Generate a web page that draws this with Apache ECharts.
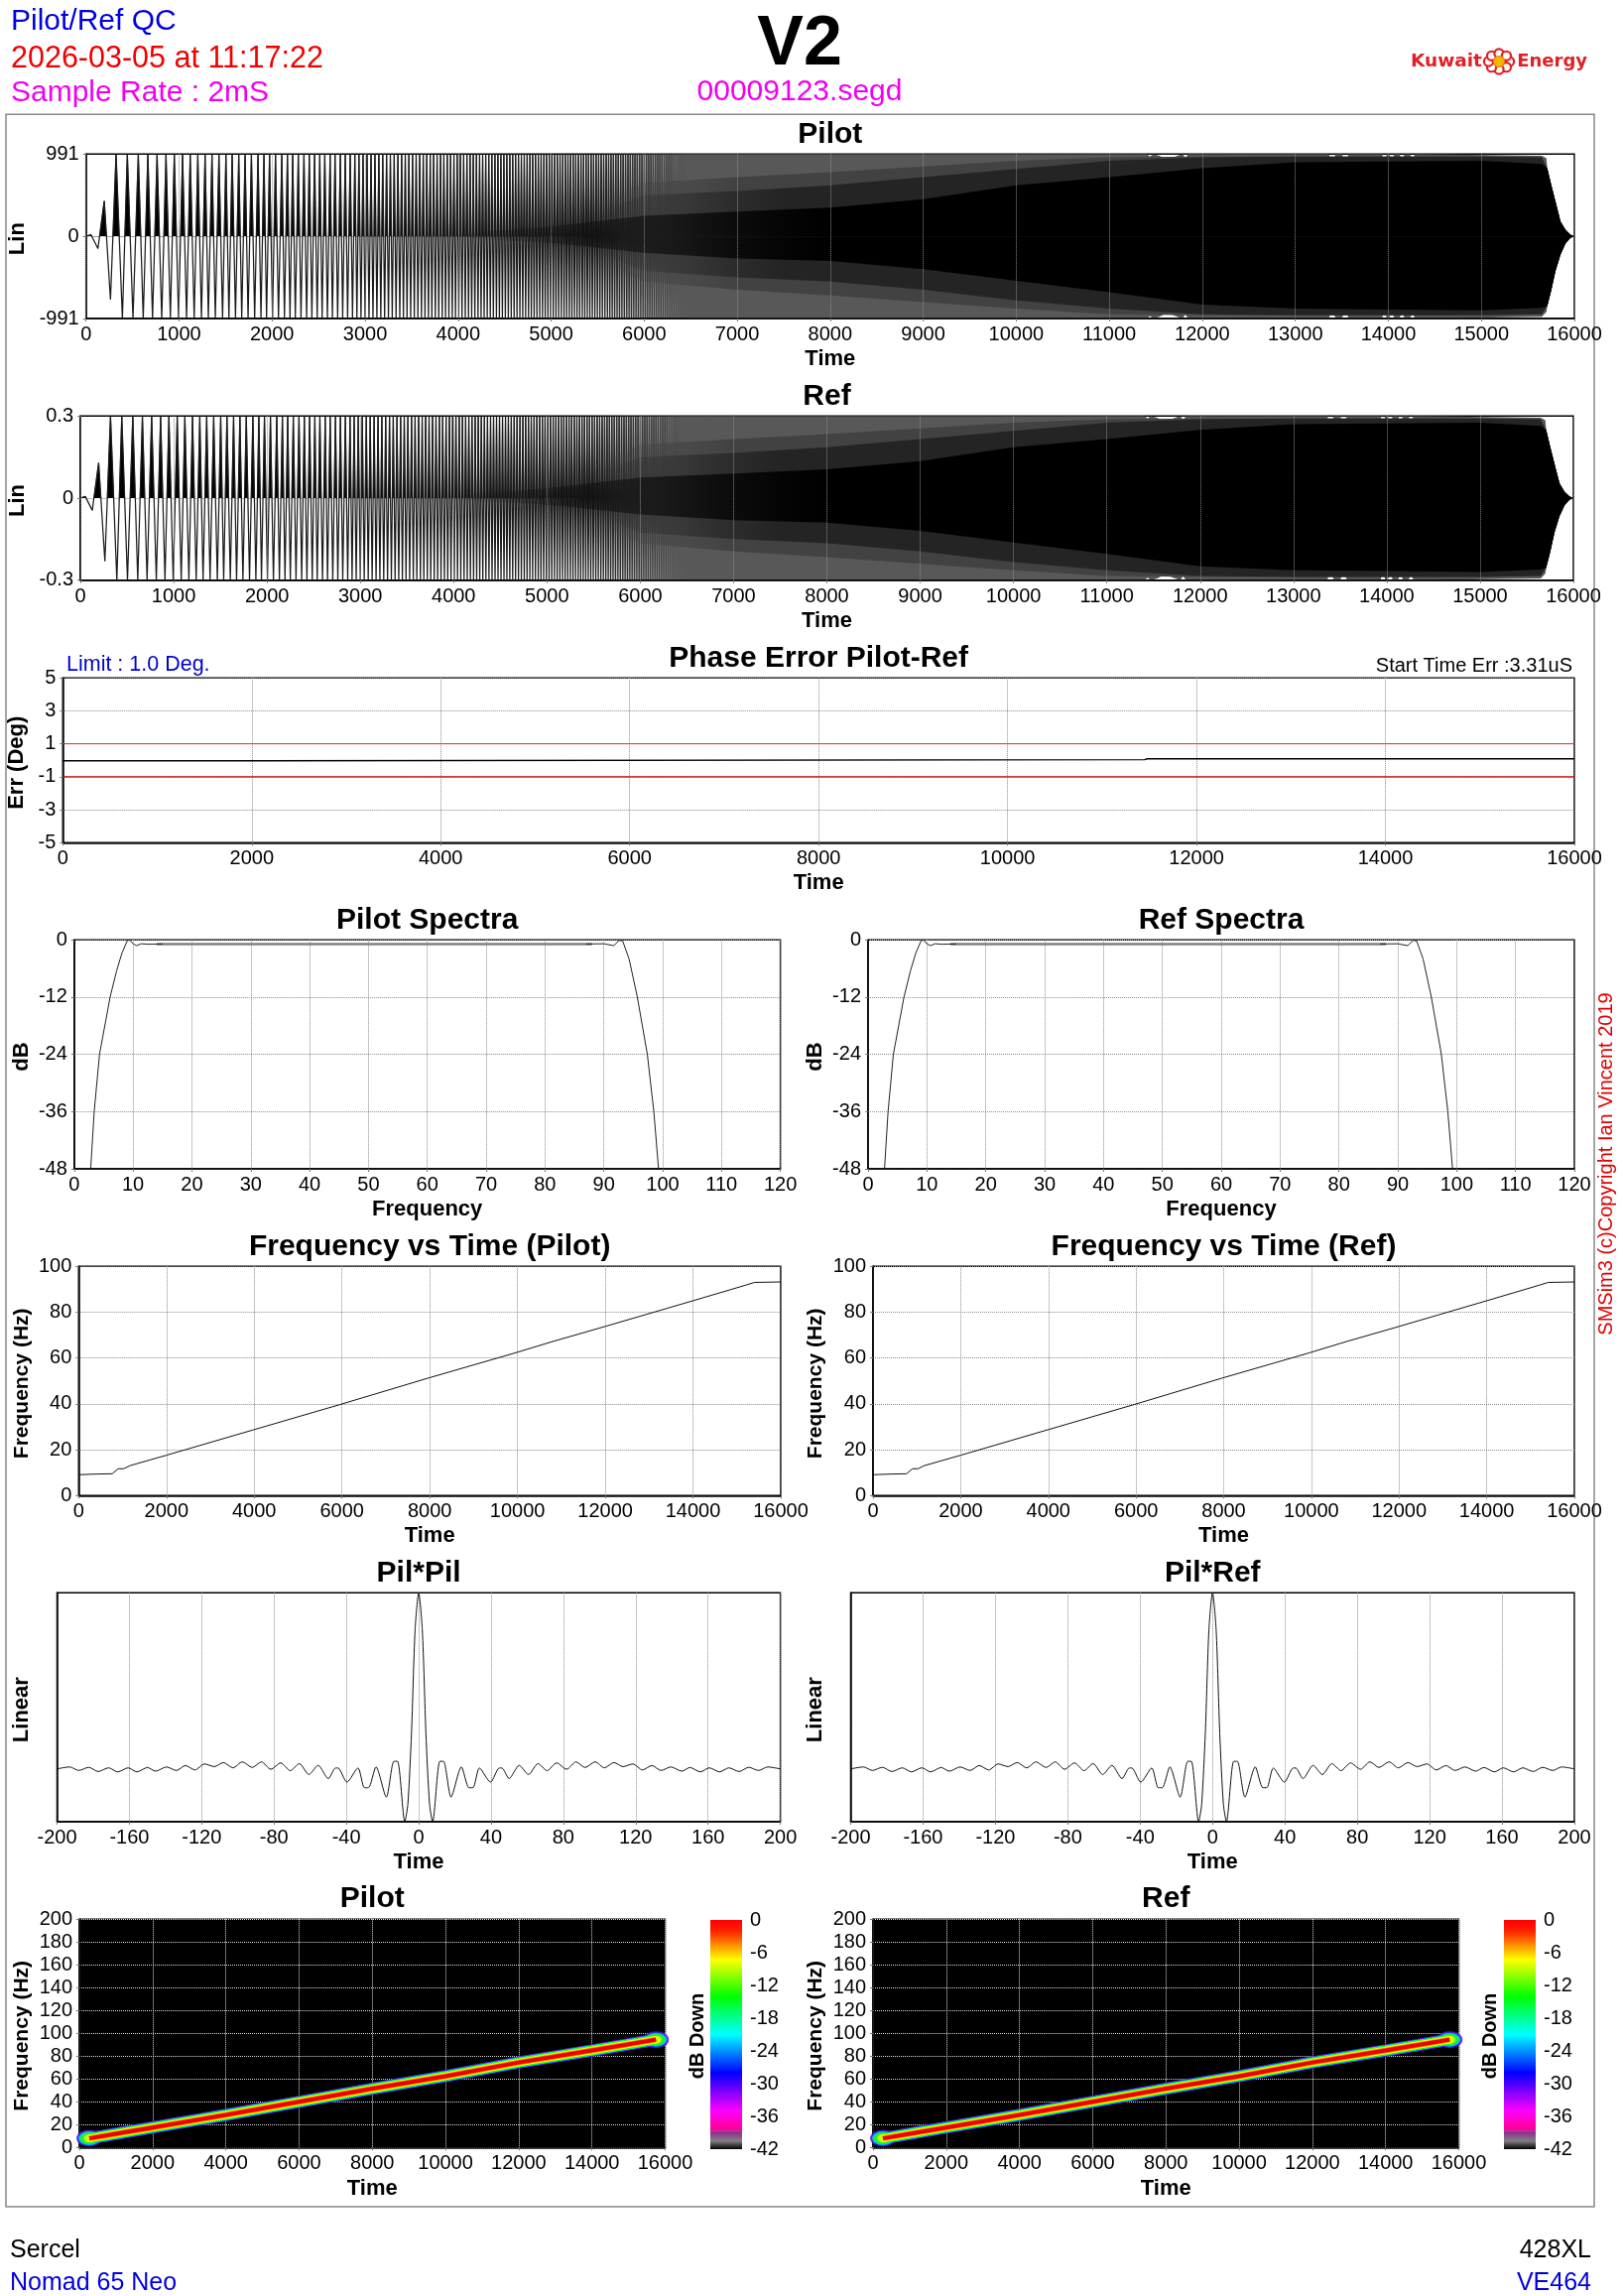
<!DOCTYPE html>
<html>
<head>
<meta charset="utf-8">
<title>Pilot/Ref QC</title>
<script src="https://cdn.jsdelivr.net/npm/echarts@6/dist/echarts.min.js"></script>
<style>
html,body{margin:0;padding:0;background:#fff;}
#main{width:1636px;height:2314px;}
</style>
</head>
<body>
<div id="main"></div>
<script>
//sweep extrema (ms), read from the stripes up to about 7000ms, peak and trough in turn
var sweepExtremaT = [53,128,196,263,323,391,444,505,562,615,665,715,764,814,860,907,949,995,1038,1081,1120,1163,1202,1241,1280,1315,1354,1390,1429,1468,1504,1536,1571,1607,1642,1674,1710,1742,1778,1813,1849,1881,1913,1941,1973,2005,2037,2069,2105,2133,2165,2193,2222,2250,2282,2311,2343,2372,2400,2428,2457,2485,2513,2538,2567,2595,2624,2649,2677,2705,2734,2759,2787,2812,2840,2865,2890,
2912,2934,2956,2978,3000,3021,3042,3064,3085,3106,3127,3148,3169,3190,3210,3231,3251,3272,3292,3313,3333,3353,3373,3393,3412,3432,3451,3471,3490,3510,3529,3549,3568,3587,3606,3625,3644,3663,3681,3700,3718,3737,3755,3774,3792,3811,3829,3847,3865,3883,3901,3919,3937,3955,3972,3990,4007,4025,4042,4060,4077,4095,4112,4129,4146,4163,4180,4197,4214,4231,4247,4264,4280,4297,4313,4330,4346,4363,4379,4396,4412,4428,4444,4460,4476,4492,4508,4524,4540,4556,4571,4587,4602,4618,4633,4649,4664,4680,4695,4711,4726,4742,4757,4772,4787,4802,4817,4832,4847,4862,4877,4892,4907,4922,4936,4951,4965,4980,4994,5009,5023,5038,5052,5067,5081,5096,5110,5125,5139,5153,5167,5181,5195,5209,5223,5237,5251,5265,5279,5293,5307,5321,5335,5349,5362,5376,5389,5403,5416,5430,5443,5457,5470,5484,5497,5511,5524,5538,5551,5565,5578,5592,5605,5618,5631,5644,5657,5670,5683,5696,5709,5722,5735,5748,5761,5774,5787,5800,5813,5826,5838,5851,5863,5876,5888,5901,5913,5926,5938,5951,5963,5976,5988,6001,
6013,6025,6037,6049,6061,6073,6085,6097,6109,6121,6133,6145,6157,6169,6181,6192,6204,6216,6228,6240,6251,6263,6275,6286,6298,6309,6321,6332,6344,6355,6367,6378,6390,6401,6413,6424,6435,6447,6458,6470,6481,6492,6503,6515,6526,6537,6548,6560,6571,6582,6593,6604,6615,6627,6638,6649,6660,6671,6682,6693,6704,6715,6726,6737,6748,6759,6770,6781,6792,6803,6814,6825,6836,6846,6857,6868,6879,6890,6901,6912,6922,6933,6944,6955,6965,6976,6987,6998];
//first extrema are tapered, all the later ones reach full scale
var sweepTaperAmp = [0.02,-0.15,0.43,-0.77];

//past 7000ms the cycles are not resolved in the picture, so only the shading is kept:
//outer edge, two grey bands and black core as fractions of full scale
var edgeT =   [5500,11400,11439,11470,11540,11620,11733,11790,11816,11850,13360,13398,13435,13500,13537,13575,13935,13953,13985,14010,14036,14065,14120,14147,14175,14230,14258,14290,15650,15700,15708,15751,15797,15851,15904,15957,16000];
var edgeTop = [1,1,0.97,1,0.98,0.93,0.98,1,0.95,1,1,0.9,1,1,0.9,1,1,0.88,1,1,0.9,1,1,0.92,1,1,0.94,1,0.98,0.95,0.83,0.625,0.42,0.18,0.08,0.02,0];
var edgeBot = [1,1,0.97,1,0.98,0.93,0.98,1,0.95,1,1,0.9,1,1,0.9,1,1,0.88,1,1,0.9,1,1,0.92,1,1,0.94,1,0.98,0.92,0.85,0.66,0.42,0.22,0.09,0.02,0];
var greyT =   [5500,6000,7000,8000,9000,10000,11000,12000,13000,14000,15000,15650,15708,15751,15797,15851,15904,15957,16000];
var greyTop = [0.4,0.65,0.72,0.78,0.85,0.92,0.96,0.97,0.97,0.97,0.97,0.96,0.83,0.625,0.42,0.18,0.08,0.02,0];
var greyBot = [0.3,0.55,0.65,0.72,0.8,0.88,0.95,0.96,0.96,0.96,0.96,0.95,0.85,0.66,0.42,0.22,0.09,0.02,0];
var darkTop = [0.3,0.5,0.55,0.62,0.72,0.82,0.92,0.96,0.97,0.97,0.97,0.96,0.83,0.625,0.42,0.18,0.08,0.02,0];
var darkBot = [0.2,0.42,0.5,0.55,0.65,0.78,0.88,0.95,0.96,0.96,0.96,0.95,0.85,0.66,0.42,0.22,0.09,0.02,0];
var coreT =   [4000,5000,6000,7000,8000,9000,10000,11000,12000,13000,14000,15000,15650,15708,15751,15797,15851,15904,15957,16000];
var coreTop = [0.03,0.12,0.25,0.3,0.35,0.45,0.62,0.72,0.83,0.9,0.91,0.92,0.88,0.83,0.625,0.42,0.18,0.08,0.02,0];
var coreBot = [0.02,0.08,0.2,0.27,0.3,0.4,0.54,0.68,0.83,0.88,0.89,0.9,0.87,0.85,0.66,0.42,0.22,0.09,0.02,0];

var pilotScale = 991;
var refScale = 0.3;

//phase error and limits
var phaseT = [0,2100,2120,11450,11480,16000];
var phaseErr = [-0.03,-0.03,0.04,0.04,0.09,0.09];
var limitT = [0,16000];
var limitHigh = [1,1];
var limitLow = [-1,-1];

//amplitude spectrum, edges and the flat top with its small ripple
var spectraLowF = [2.8,3.4,4.3,6.1,7.2,8.1,9,9.4,10,10.6,11.4,12.5,15];
var spectraLowDb = [-48,-36,-24,-12,-6.5,-2.8,-0.2,0,-0.8,-1.2,-0.8,-0.9,-0.85];
var spectraFlatF = [14,88];
var spectraFlatDb = [-0.85,-0.85];
var spectraHighF = [87,90,91.7,92.6,93.2,94.3,95.7,97.4,98.5,99.3];
var spectraHighDb = [-0.85,-0.8,-1.2,-0.1,-0.2,-4,-12,-24,-36,-48];

//instantaneous frequency
var sweepT = [0,427,764,900,1026,1176,2000,3985,5955,7955,9940,10800,12000,14000,15200,15400,16000];
var sweepF = [9.1,9.4,9.5,11.7,11.7,13.1,17.6,28.7,39.7,51.2,62.2,67.2,73.8,85,91.8,93,93.2];

//correlation, positive lags, mirrored for the negative side
var corrLag = [0,2,4,6,7.7,11.7,13.7,17.9,23.6,27.8,30,33.6,39.7,44.6,46,50,55.6,60.7,66,71,76.3,81.8,87,92,97.6,102.7,108,113,118.5,123.7,129,134,139.5,145.5,150,155.8,160.7,166.4,171.5,177.2,182.5,188,193,200];
var corrVal = [1,0.79,0.2,-0.2,-0.3,0.043,0.043,-0.16,0.011,-0.107,-0.107,0.005,-0.075,0.005,0.005,-0.055,0.02,-0.032,0.03,-0.01,0.034,-0.002,0.04,0.008,0.04,0.006,0.036,0.013,0.028,-0.006,0.019,-0.009,0.011,-0.013,0.008,-0.017,0.006,-0.017,0.006,-0.015,0.009,-0.009,0.011,0];

//time-frequency ridge and colour scale
var ridgeT = [270,1000,2000,4000,6000,8000,10000,12000,14000,15750];
var ridgeF = [8,12,17.5,28.5,40,51.5,62.5,74.5,85,94.5];
var ridgeEnds = [[270,8],[15750,94.5]];
var colorbarDb = [0,-2,-7.3,-14,-21,-28,-35,-38.5,-38.6,-39,-40.5,-42];
var colorbarColors = ['#ff0000','#ff2000','#ffff00','#00ff00','#00ffff','#0000ff','#ff00ff','#ff0090','#a040a0','#903090','#808080','#000000'];
var ridgeColors = ['#a000e0','#0030ff','#00e0ff','#20ff00','#ffff00','#ff8000','#ee0000'];

var font = '"Liberation Sans",Arial,sans-serif';
var gridColor = '#8c8c8c';

function zip(xs,ys)
{
	var r = [];
	for(var i=0;i<xs.length;i++)
	{
		r.push([xs[i],ys[i]]);
	}
	return r;
}
//no thousands separator on the axes
function plainNumber(v)
{
	return String(v);
}

var option = {animation:false,backgroundColor:'#fff',title:[],grid:[],xAxis:[],yAxis:[],series:[],graphic:[]};

//one grid with its axes and title, returns the index shared by grid and axes
function addPlot(p)
{
	var idx = option.grid.length;
	option.grid.push({left:p.l,top:p.t,width:p.r-p.l,height:p.b-p.t,show:true,borderColor:'#000',borderWidth:1.5,
		backgroundColor:p.bg||'#fff',containLabel:false,outerBoundsMode:'none',z:0});
	option.xAxis.push({gridIndex:idx,type:'value',min:p.xMin,max:p.xMax,interval:p.xStep,z:p.lineOnTop?6:undefined,
		name:p.xName,nameLocation:'middle',nameGap:p.xGap,
		nameTextStyle:{fontFamily:font,fontWeight:'bold',fontSize:22,color:'#000'},
		axisLine:{onZero:false,lineStyle:{color:'#000',width:1.5}},
		axisTick:{length:3,lineStyle:{color:'#777'}},
		axisLabel:{fontFamily:font,fontSize:20,color:'#000',margin:6.5,showMinLabel:true,showMaxLabel:true,hideOverlap:false,formatter:plainNumber},
		splitLine:{show:true,lineStyle:{type:[1,1],color:p.gridColor||gridColor,width:1}}});
	var y = {gridIndex:idx,type:'value',min:p.yMin,max:p.yMax,
		name:p.yName,nameLocation:'middle',nameGap:p.l-p.yNameX-13,nameRotate:90,
		nameTextStyle:{fontFamily:font,fontWeight:'bold',fontSize:p.yNameSize||22,color:'#000',padding:[0,5,0,0]},
		axisLine:{onZero:false,lineStyle:{color:'#000',width:1.5}},
		axisTick:{show:p.yTicks!==false,length:3,lineStyle:{color:'#777'}},
		axisLabel:{show:p.yLabels!==false,fontFamily:font,fontSize:20,color:'#000',margin:7,padding:[3,0,0,0],showMinLabel:true,showMaxLabel:true,hideOverlap:false,formatter:plainNumber},
		splitLine:{show:p.ySplit!==false,lineStyle:{type:[1,1],color:p.gridColor||gridColor,width:1}}};
	if(p.yStep)
	{
		y.interval = p.yStep;
	}
	if(p.yCustom)
	{
		y.axisLabel.customValues = p.yCustom;
		y.axisTick.customValues = p.yCustom;
	}
	option.yAxis.push(y);
	option.title.push({text:p.title,left:(p.l+p.r)/2,top:p.titleY-14,textAlign:'center',padding:0,
		textStyle:{fontFamily:font,fontWeight:'bold',fontSize:30,color:'#000'}});
	return idx;
}

function addLine(idx,data,color,width,extra)
{
	var s = {type:'line',xAxisIndex:idx,yAxisIndex:idx,data:data,showSymbol:false,symbol:'none',silent:true,
		lineStyle:{color:color,width:width},clip:true,z:2};
	for(var k in extra)
	{
		s[k] = extra[k];
	}
	option.series.push(s);
}

function scaled(ts,fr,scale)
{
	var r = [];
	for(var i=0;i<ts.length;i++)
	{
		r.push([ts[i],fr[i]*scale]);
	}
	return r;
}

//fill that fades in over the resolved stripes, from the first time of the band up to fullT
function fadeIn(rgb,ts,fullT)
{
	var first = ts[0];
	var off = (fullT-first)/(ts[ts.length-1]-first);
	return new echarts.graphic.LinearGradient(0,0,1,0,[
		{offset:0,color:'rgba('+rgb+',0)'},{offset:off,color:'rgba('+rgb+',1)'},{offset:1,color:'rgba('+rgb+',1)'}]);
}

//a polyline is painted over every area of the same z, so each band needs its own z above the wiggle
function addBand(idx,ts,top,bot,scale,rgb,fullT,z)
{
	var fill = fadeIn(rgb,ts,fullT);
	addLine(idx,scaled(ts,top,scale),'transparent',0,{areaStyle:{color:fill,opacity:1},z:z});
	addLine(idx,scaled(ts,bot,-scale),'transparent',0,{areaStyle:{color:fill,opacity:1},z:z});
}

function addWaveform(p,scale)
{
	p.xMin = 0;p.xMax = 16000;p.xStep = 1000;
	p.yMin = -scale;p.yMax = scale;p.yCustom = [-scale,0,scale];
	p.ySplit = false;p.lineOnTop = true;p.yName = 'Lin';p.yNameX = 20;p.xName = 'Time';
	var idx = addPlot(p);
	//wiggle, drawn from the read extrema
	var wiggle = [[0,0]];
	for(var i=0;i<sweepExtremaT.length;i++)
	{
		var a = i<sweepTaperAmp.length?sweepTaperAmp[i]:(i%2==0?1:-1);
		wiggle.push([sweepExtremaT[i],a*scale]);
	}
	//variable area: same trace on a hidden grid over the upper half only, so the lobes clip at zero
	var half = option.grid.length;
	option.grid.push({left:p.l,top:p.t,width:p.r-p.l,height:(p.b-p.t)/2,show:false,outerBoundsMode:'none'});
	option.xAxis.push({gridIndex:half,type:'value',min:0,max:16000,show:false});
	option.yAxis.push({gridIndex:half,type:'value',min:0,max:scale,show:false});
	addLine(half,wiggle,'#000',0.6,{areaStyle:{color:'#000',opacity:1}});
	addLine(idx,wiggle,'#1c1c1c',1.25);
	//unresolved part
	addBand(idx,edgeT,edgeTop,edgeBot,scale,'88,88,88',6500,3);
	addBand(idx,greyT,greyTop,greyBot,scale,'66,66,66',7000,4);
	addBand(idx,greyT,darkTop,darkBot,scale,'36,36,36',7500,4.5);
	addBand(idx,coreT,coreTop,coreBot,scale,'0,0,0',8000,5);
}

function addSpectra(p)
{
	p.xMin = 0;p.xMax = 120;p.xStep = 10;p.yMin = -48;p.yMax = 0;p.yStep = 12;
	p.yName = 'dB';p.xName = 'Frequency';p.xGap = 30;p.titleY = 927;p.t = 947.3;p.b = 1178;
	var idx = addPlot(p);
	addLine(idx,zip(spectraFlatF,spectraFlatDb),'#808080',2.5);
	addLine(idx,zip(spectraLowF,spectraLowDb),'#222',1);
	addLine(idx,zip(spectraHighF,spectraHighDb),'#222',1);
}

function addSweep(p)
{
	p.xMin = 0;p.xMax = 16000;p.xStep = 2000;p.yMin = 0;p.yMax = 100;p.yStep = 20;
	p.yName = 'Frequency (Hz)';p.yNameSize = 21;p.xName = 'Time';p.xGap = 30;p.titleY = 1256;p.t = 1276.3;p.b = 1507.3;
	var idx = addPlot(p);
	addLine(idx,zip(sweepT,sweepF),'#111',1);
}

function addCorr(p)
{
	p.xMin = -200;p.xMax = 200;p.xStep = 40;p.yMin = -0.3;p.yMax = 1;
	p.ySplit = false;p.yLabels = false;p.yTicks = false;
	p.yName = 'Linear';p.xName = 'Time';p.xGap = 30;p.titleY = 1585;p.t = 1605.3;p.b = 1836;
	var idx = addPlot(p);
	var data = [];
	for(var i=corrLag.length-1;i>0;i--)
	{
		data.push([-corrLag[i],corrVal[i]]);
	}
	for(var j=0;j<corrLag.length;j++)
	{
		data.push([corrLag[j],corrVal[j]]);
	}
	addLine(idx,data,'#111',1,{smooth:0.25});
}

function addGram(p,barL)
{
	p.xMin = 0;p.xMax = 16000;p.xStep = 2000;p.yMin = 0;p.yMax = 200;p.yStep = 20;
	p.yName = 'Frequency (Hz)';p.yNameSize = 21;p.xName = 'Time';p.xGap = 31;p.titleY = 1913;p.t = 1934.3;p.b = 2164.3;
	p.bg = '#000';p.gridColor = '#dddddd';
	var idx = addPlot(p);
	var ridge = zip(ridgeT,ridgeF);
	var widths = [12.5,11.5,10.5,9.5,7.5,5.5,4];
	var ends = [[26,17],[24,15.5],[22,14],[19,12],[11,8]];
	for(var i=0;i<ridgeColors.length;i++)
	{
		var layerZ = 3+i;
		if(i<ends.length)
		{
			option.series.push({type:'scatter',xAxisIndex:idx,yAxisIndex:idx,data:ridgeEnds,symbol:'circle',symbolSize:ends[i],
				itemStyle:{color:ridgeColors[i]},silent:true,clip:true,z:layerZ});
		}
		addLine(idx,ridge,ridgeColors[i],widths[i],{z:layerZ});
	}
	//colour scale: its own small grid, so the labels come from a real axis
	var bar = option.grid.length;
	option.grid.push({left:barL,top:1935,width:32,height:231,show:false,outerBoundsMode:'none'});
	option.xAxis.push({gridIndex:bar,type:'category',data:['dB'],show:false,boundaryGap:true});
	option.yAxis.push({gridIndex:bar,type:'value',min:-42,max:0,interval:6,position:'right',
		axisLine:{show:false,onZero:false},axisTick:{show:false},splitLine:{show:false},
		axisLabel:{fontFamily:font,fontSize:20,color:'#000',margin:8,padding:[3,0,0,0],showMinLabel:true,showMaxLabel:true,hideOverlap:false,formatter:plainNumber}});
	var stops = [];
	for(var k=0;k<colorbarDb.length;k++)
	{
		stops.push({offset:-colorbarDb[k]/42,color:colorbarColors[k]});
	}
	option.series.push({type:'bar',xAxisIndex:bar,yAxisIndex:bar,data:[-42],barWidth:'100%',silent:true,
		itemStyle:{color:new echarts.graphic.LinearGradient(0,0,0,1,stops)}});
}

addWaveform({l:86.7,r:1587,t:155.3,b:321,title:'Pilot',titleY:135,xGap:29.5},pilotScale);
addWaveform({l:81,r:1586,t:419.3,b:584.7,title:'Ref',titleY:398.5,xGap:30},refScale);

var phaseIdx = addPlot({l:63.3,r:1587,t:683.2,b:849.3,title:'Phase Error Pilot-Ref',titleY:663,
	xMin:0,xMax:16000,xStep:2000,yMin:-5,yMax:5,yCustom:[-5,-3,-1,1,3,5],yName:'Err (Deg)',yNameX:20,xName:'Time',xGap:30});
addLine(phaseIdx,zip(limitT,limitHigh),'#e03030',1);
addLine(phaseIdx,zip(limitT,limitLow),'#c00000',1.2);
addLine(phaseIdx,zip(phaseT,phaseErr),'#000',1.4);

addSpectra({l:74.8,r:786.6,title:'Pilot Spectra',yNameX:20});
addSpectra({l:875,r:1587,title:'Ref Spectra',yNameX:820});
addSweep({l:79.3,r:787,title:'Frequency vs Time (Pilot)',yNameX:20});
addSweep({l:880,r:1587,title:'Frequency vs Time (Ref)',yNameX:820});
addCorr({l:57.5,r:786.6,title:'Pil*Pil',yNameX:20});
addCorr({l:857.5,r:1587,title:'Pil*Ref',yNameX:820});
addGram({l:80,r:670.5,title:'Pilot',yNameX:20},716);
addGram({l:880,r:1470.5,title:'Ref',yNameX:820},1516);

//page furniture
function label(text,x,y,size,color,align,weight,rot)
{
	return {type:'text',x:x,y:y,rotation:rot||0,z:10,style:{text:text,fill:color,align:align||'left',verticalAlign:'middle',
		font:(weight||'normal')+' '+size+'px '+font}};
}
option.graphic.push({type:'rect',shape:{x:6,y:115.3,width:1601,height:2108.7},style:{fill:'none',stroke:'#888',lineWidth:1.5},z:-1,silent:true});
option.graphic.push(label('Pilot/Ref QC',11,22,30,'#0000e0'));
option.graphic.push(label('2026-03-05 at 11:17:22',11,60,30.5,'#f00000'));
option.graphic.push(label('Sample Rate : 2mS',11,94,30,'#f000f0'));
option.graphic.push(label('V2',806,46,70,'#000','center','bold'));
option.graphic.push(label('00009123.segd',806,93,30,'#f000f0','center'));
option.graphic.push(label('Limit : 1.0 Deg.',67,670,21.5,'#0000d0'));
option.graphic.push(label('Start Time Err :3.31uS',1585,671.5,20,'#000','right'));
option.graphic.push(label('SMSim3 (c)Copyright Ian Vincent 2019',1619,1173,20,'#e00000','center','normal',Math.PI/2));
option.graphic.push(label('Sercel',10,2268,25,'#000'));
option.graphic.push(label('Nomad 65 Neo',10,2301,25,'#0000e0'));
option.graphic.push(label('428XL',1604,2268,25,'#000','right'));
option.graphic.push(label('VE464',1604,2301,25,'#0000e0','right'));
option.graphic.push(label('dB Down',703.5,2052,20,'#000','center','bold',Math.PI/2));
option.graphic.push(label('dB Down',1502,2052,20,'#000','center','bold',Math.PI/2));

//logo
var logoRed = '#e01f26';
option.graphic.push({type:'text',x:1422,y:62,z:10,style:{text:'Kuwait',fill:logoRed,align:'left',verticalAlign:'middle',font:'bold 18.5px "DejaVu Sans"'}});
option.graphic.push({type:'text',x:1600,y:62,z:10,style:{text:'Energy',fill:logoRed,align:'right',verticalAlign:'middle',font:'bold 18px "DejaVu Sans"'}});
var petalAngles = [0,45,90,135,180,225,270,315];
for(var a=0;a<petalAngles.length;a++)
{
	var rad = petalAngles[a]*Math.PI/180;
	option.graphic.push({type:'circle',z:10,silent:true,shape:{cx:1511+Math.cos(rad)*10.5,cy:62+Math.sin(rad)*8,r:4.6},
		style:{fill:'#fff',stroke:logoRed,lineWidth:2.2}});
}
option.graphic.push({type:'circle',z:11,silent:true,shape:{cx:1511,cy:62,r:5.5},style:{fill:'#f7b500',stroke:'#f08000',lineWidth:1}});

var myChart = echarts.init(document.getElementById('main'),null,{renderer:'canvas',width:1636,height:2314});
myChart.setOption(option);
</script>
</body>
</html>
